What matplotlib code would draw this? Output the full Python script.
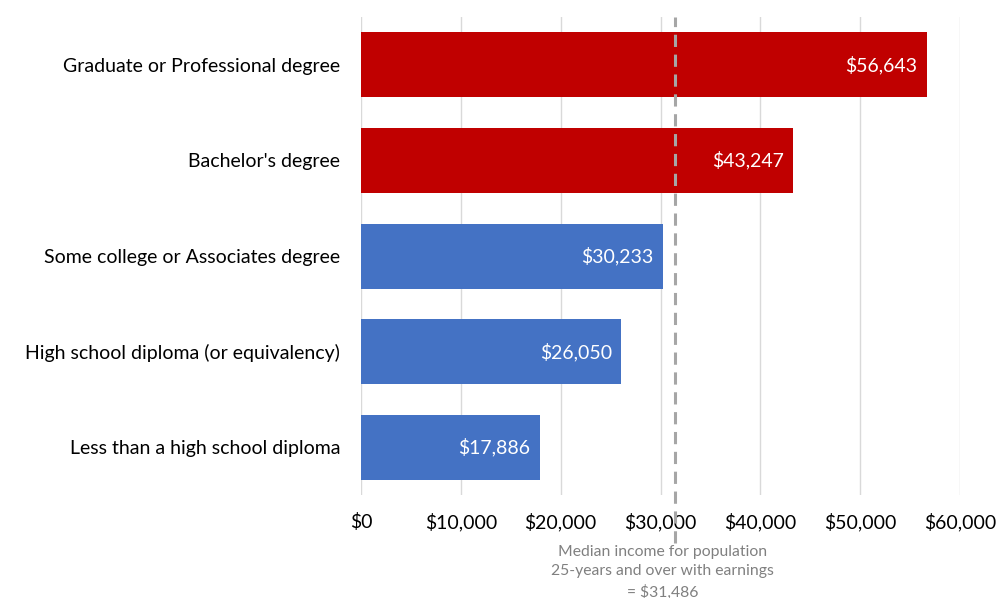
import matplotlib.pyplot as plt
from matplotlib.ticker import FuncFormatter

# Median earnings by educational attainment (population 25 years and over)
categories = [
    "Less than a high school diploma",
    "High school diploma (or equivalency)",
    "Some college or Associates degree",
    "Bachelor's degree",
    "Graduate or Professional degree",
]
earnings = [17886, 26050, 30233, 43247, 56643]
median_income = 31486

BLUE = "#4472c4"
RED = "#c00000"

plt.rcParams["font.family"] = ["Lato", "DejaVu Sans"]

fig = plt.figure(figsize=(9.97, 5.98), dpi=100)
ax = fig.add_axes([0.362, 0.172, 0.601, 0.7995])

colors = [RED if v > median_income else BLUE for v in earnings]
bars = ax.barh(range(len(categories)), earnings, height=0.68, color=colors, zorder=2)

for bar, v in zip(bars, earnings):
    ax.text(v - 900, bar.get_y() + bar.get_height() / 2, f"${v:,}",
            ha="right", va="center", color="white", fontsize=14, zorder=3)

ax.set_xlim(0, 60000)
ax.set_ylim(-0.5, len(categories) - 0.5)
ax.set_xticks(range(0, 60001, 10000))
ax.xaxis.set_major_formatter(FuncFormatter(lambda x, _: f"${x:,.0f}"))
ax.set_yticks(range(len(categories)))
ax.set_yticklabels(categories)
ax.tick_params(axis="both", length=0, labelsize=14, colors="black")
ax.tick_params(axis="x", pad=13)
ax.tick_params(axis="y", pad=15)

ax.grid(axis="x", color="#d9d9d9", linewidth=1, zorder=0)
for s in ax.spines.values():
    s.set_visible(False)

# median reference line, running down past the tick labels
ax.axvline(median_income, ymin=-0.1, ymax=1, color="#a6a6a6", linewidth=2.2,
           dashes=(4, 2.5), clip_on=False, zorder=4)
ax.text(median_income - 1300, -1.02,
        "Median income for population\n25-years and over with earnings\n= ${:,}".format(median_income),
        ha="center", va="top", color="#808080", fontsize=11.3, linespacing=1.5,
        clip_on=False)

fig.savefig("out.png", dpi=100)
